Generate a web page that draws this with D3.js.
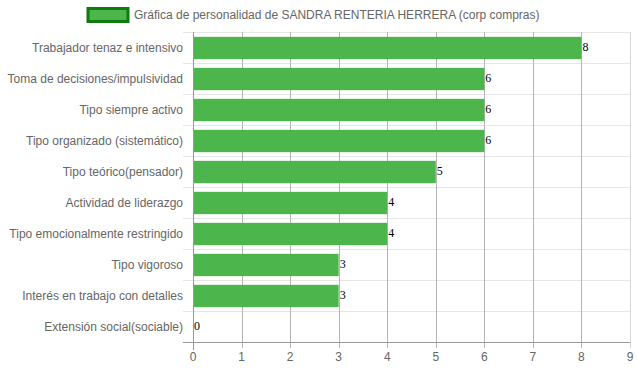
<!DOCTYPE html>
<html><head><meta charset="utf-8">
<script src="https://cdn.jsdelivr.net/npm/d3@7"></script>
<style>body{margin:0;background:#fff}svg{display:block}</style>
</head><body>
<svg id="c" width="637" height="371"></svg>
<script>
const categories = ["Trabajador tenaz e intensivo","Toma de decisiones/impulsividad","Tipo siempre activo","Tipo organizado (sistemático)","Tipo teórico(pensador)","Actividad de liderazgo","Tipo emocionalmente restringido","Tipo vigoroso","Interés en trabajo con detalles","Extensión social(sociable)"];
const values = [8,6,6,6,5,4,4,3,3,0];
const xTicks = [0,1,2,3,4,5,6,7,8,9];
const legendLabel = "Gráfica de personalidad de SANDRA RENTERIA HERRERA (corp compras)";

const svg = d3.select("#c");
const L = 193, R = 630, T = 32, B = 342;
const x = d3.scaleLinear().domain([0,9]).range([L,R]);
const y = d3.scaleBand().domain(categories).range([T,B]);
const font = "Arial, 'Liberation Sans', sans-serif";

// horizontal grid lines
const hg = svg.append("g");
categories.forEach((c,i)=>{
  hg.append("line").attr("x1",L-10).attr("x2",R).attr("y1",y(c)+0.5).attr("y2",y(c)+0.5)
    .attr("stroke","#e6e6e6").attr("stroke-width",1);
});
// vertical grid lines
const vg = svg.append("g");
xTicks.forEach(t=>{
  vg.append("line").attr("x1",Math.round(x(t))+0.5).attr("x2",Math.round(x(t))+0.5)
    .attr("y1",T).attr("y2",B+6)
    .attr("stroke", t===0 ? "#999" : (t===9 ? "#d8d8d8" : "#b5b5b5")).attr("stroke-width",1);
});
// bottom axis
svg.append("line").attr("x1",L-10).attr("x2",R).attr("y1",B+0.5).attr("y2",B+0.5).attr("stroke","#999");
svg.append("line").attr("x1",L+0.5).attr("x2",L+0.5).attr("y1",T).attr("y2",B+8).attr("stroke","#999");

// bars
const bh = y.bandwidth()*0.72;
svg.append("g").selectAll("rect").data(values).join("rect")
  .attr("x",L+1).attr("y",(d,i)=>y(categories[i])+(y.bandwidth()-bh)/2+0.5)
  .attr("width",d=>Math.max(0,x(d)-L-1)).attr("height",bh)
  .attr("fill","#4cb64c");

// value labels
svg.append("g").selectAll("text").data(values).join("text")
  .attr("x",d=>x(d)+1).attr("y",(d,i)=>y(categories[i])+y.bandwidth()/2+1)
  .attr("dominant-baseline","middle")
  .attr("font-family","'Liberation Serif','Times New Roman',serif").attr("font-size",12).attr("fill","#000")
  .text(d=>d);

// y labels
svg.append("g").selectAll("text").data(categories).join("text")
  .attr("x",L-10).attr("y",c=>y(c)+y.bandwidth()/2+1)
  .attr("text-anchor","end").attr("dominant-baseline","middle")
  .attr("font-family",font).attr("font-size",12).attr("fill","#666").text(c=>c);

// x labels
svg.append("g").selectAll("text").data(xTicks).join("text")
  .attr("x",t=>x(t)).attr("y",358).attr("text-anchor","middle").attr("dominant-baseline","middle")
  .attr("font-family",font).attr("font-size",12).attr("fill","#666").text(t=>t);

// legend
svg.append("rect").attr("x",88).attr("y",8.5).attr("width",40).attr("height",13)
  .attr("fill","#4cb64c").attr("stroke","#0f7a0f").attr("stroke-width",3);
svg.append("text").attr("x",134).attr("y",16).attr("dominant-baseline","middle")
  .attr("font-family",font).attr("font-size",12).attr("fill","#666").text(legendLabel);
</script>
</body></html>
